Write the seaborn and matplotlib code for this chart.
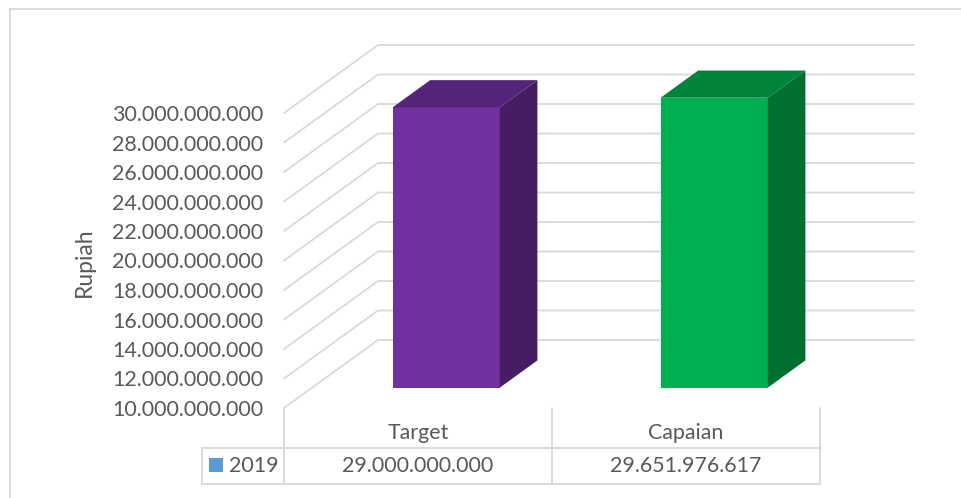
import matplotlib
matplotlib.use("Agg")
import matplotlib.pyplot as plt
import seaborn as sns
import pandas as pd
from matplotlib.patches import Polygon, Rectangle
from matplotlib.lines import Line2D
from matplotlib.transforms import ScaledTranslation, blended_transform_factory

# ---- data -------------------------------------------------------------
categories = ["Target", "Capaian"]
values = [29_000_000_000, 29_651_976_617]
series_name = "2019"
y_ticks = [10_000_000_000, 12_000_000_000, 14_000_000_000, 16_000_000_000,
           18_000_000_000, 20_000_000_000, 22_000_000_000, 24_000_000_000,
           26_000_000_000, 28_000_000_000, 30_000_000_000]
y_label = "Rupiah"

front_colors = ["#7030a0", "#00b050"]
top_colors = ["#53247a", "#00843b"]
side_colors = ["#461c63", "#007032"]
series_color = "#5b9bd5"
grid_color = "#d9d9d9"
text_color = "#595959"


def rupiah(v):
    return f"{int(round(v)):,}".replace(",", ".")


sns.set_theme(style="white")
plt.rcParams["font.family"] = ["Lato", "DejaVu Sans"]
FS = 15.4

W, H, DPI = 961, 498, 100
fig = plt.figure(figsize=(W / DPI, H / DPI), dpi=DPI)

# front plane of the 3-D box, in pixels from the top-left corner
left_px, right_px, bottom_px, top_px = 284, 820, 408, 113
ax = fig.add_axes([left_px / W, 1 - bottom_px / H,
                   (right_px - left_px) / W, (bottom_px - top_px) / H])
ax.set_xlim(-0.5, len(categories) - 0.5)
ax.set_ylim(y_ticks[0], y_ticks[-1])
ax.patch.set_visible(False)

# depth of the box (pixels) and the same vector in data units
depth_px = (94, 68)
px_per_x = (right_px - left_px) / len(categories)
px_per_y = (bottom_px - top_px) / (y_ticks[-1] - y_ticks[0])
DX = depth_px[0] / px_per_x
DY = depth_px[1] / px_per_y
x_lo, x_hi = ax.get_xlim()

# side wall and back wall gridlines
for t in y_ticks:
    ax.plot([x_lo, x_lo + DX, x_hi + DX], [t, t + DY, t + DY],
            color=grid_color, lw=1.3, clip_on=False, zorder=1,
            solid_joinstyle="miter")

# front faces of the columns
df = pd.DataFrame({"Kategori": categories, "Nilai": values})
sns.barplot(data=df, x="Kategori", y="Nilai", hue="Kategori",
            palette=front_colors, saturation=1, width=0.4, legend=False,
            ax=ax, zorder=3)

base = y_ticks[0]
front_depth, bar_depth = 0.3, 0.4
shift = ScaledTranslation(front_depth * depth_px[0] / DPI,
                          front_depth * depth_px[1] / DPI,
                          fig.dpi_scale_trans)
bar_trans = ax.transData + shift
bdx, bdy = bar_depth * DX, bar_depth * DY

bars = sorted(ax.patches, key=lambda p: p.get_x())
for i, p in enumerate(bars):
    v = values[i]
    x0, w = p.get_x(), p.get_width()
    p.set_y(base)
    p.set_height(v - base)
    p.set_transform(bar_trans)
    p.set_clip_on(False)
    p.set_linewidth(0)
    top = Polygon([(x0, v), (x0 + w, v), (x0 + w + bdx, v + bdy), (x0 + bdx, v + bdy)],
                  closed=True, facecolor=top_colors[i], edgecolor="none",
                  transform=bar_trans, clip_on=False, zorder=3)
    side = Polygon([(x0 + w, base), (x0 + w, v), (x0 + w + bdx, v + bdy),
                    (x0 + w + bdx, base + bdy)],
                   closed=True, facecolor=side_colors[i], edgecolor="none",
                   transform=bar_trans, clip_on=False, zorder=3)
    ax.add_patch(top)
    ax.add_patch(side)

# axes styling
for s in ax.spines.values():
    s.set_visible(False)
ax.set_xticks([])
ax.set_xlabel("")
ax.set_ylabel("")
ax.set_yticks(y_ticks)
ax.set_yticklabels([rupiah(t) for t in y_ticks])
ax.tick_params(axis="y", length=0, pad=15, labelsize=FS, labelcolor=text_color)
fig.text(84 / W, 1 - 262 / H, y_label, rotation=90, ha="center", va="center",
         fontsize=16.5, color=text_color)

# data table under the plot
tb = blended_transform_factory(ax.transData, ax.transAxes)
plot_h = bottom_px - top_px
r_mid = (bottom_px - 447.5) / plot_h
r_bot = (bottom_px - 483.5) / plot_h
leg_x = x_lo - (left_px - 202) / px_per_x
tbl_kw = dict(color=grid_color, lw=1.3, transform=tb, clip_on=False)
for xb in [x_lo + k for k in range(len(categories) + 1)]:
    ax.add_line(Line2D([xb, xb], [0, r_bot], **tbl_kw))
ax.add_line(Line2D([leg_x, leg_x], [r_mid, r_bot], **tbl_kw))
ax.add_line(Line2D([leg_x, x_hi], [r_mid, r_mid], **tbl_kw))
ax.add_line(Line2D([leg_x, x_hi], [r_bot, r_bot], **tbl_kw))

cat_y = (bottom_px - 433) / plot_h
val_y = (bottom_px - 465.5) / plot_h
for i, (c, v) in enumerate(zip(categories, values)):
    ax.text(i, cat_y, c, transform=tb, ha="center", va="center",
            fontsize=FS, color=text_color)
    ax.text(i, val_y, rupiah(v), transform=tb, ha="center", va="center",
            fontsize=FS, color=text_color)

sq_x = x_lo - (left_px - 209) / px_per_x
sq_w = 14 / px_per_x
sq_y = (bottom_px - 472) / plot_h
sq_h = 14 / plot_h
ax.add_patch(Rectangle((sq_x, sq_y), sq_w, sq_h, facecolor=series_color,
                       edgecolor="none", transform=tb, clip_on=False))
ax.text(x_lo - (left_px - 229) / px_per_x, val_y, series_name, transform=tb,
        ha="left", va="center", fontsize=FS, color=text_color)

# chart area border
fig.add_artist(Line2D([10 / W, 1], [1 - 9.5 / H, 1 - 9.5 / H],
                      color=grid_color, lw=1.3, transform=fig.transFigure))
fig.add_artist(Line2D([10 / W, 10 / W], [0, 1 - 9.5 / H],
                      color=grid_color, lw=1.3, transform=fig.transFigure))

fig.savefig("out.png", dpi=DPI, facecolor="white")
